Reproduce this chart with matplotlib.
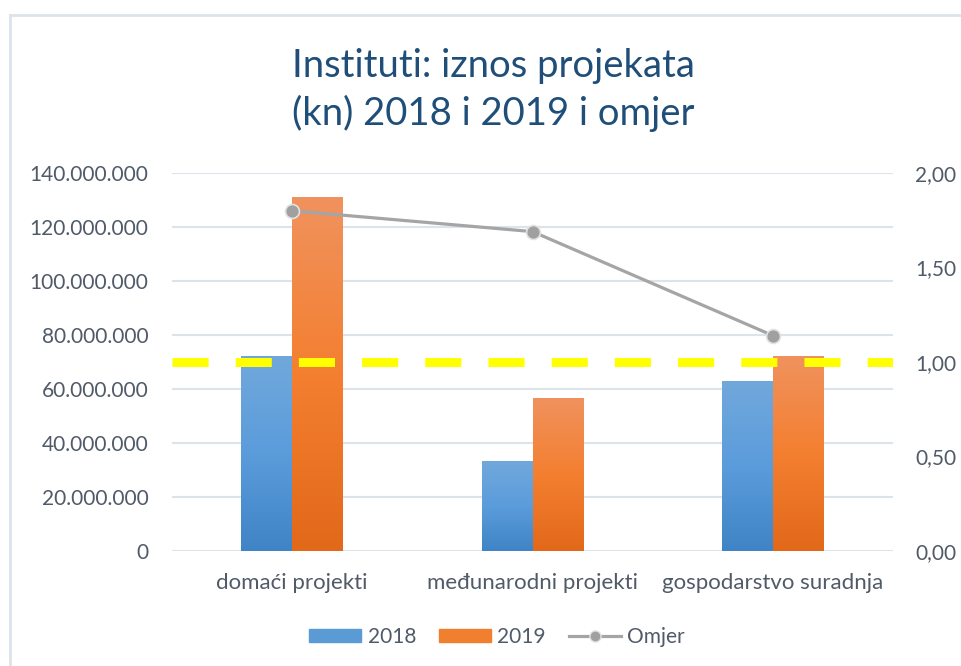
import numpy as np
import matplotlib.pyplot as plt
from matplotlib.colors import LinearSegmentedColormap
from matplotlib.patches import Patch
from matplotlib.lines import Line2D

plt.rcParams['font.family'] = ['Lato', 'DejaVu Sans']

# data
categories = ['domaći projekti', 'međunarodni projekti', 'gospodarstvo suradnja']
iznos_2018 = [72200000, 33100000, 62600000]
iznos_2019 = [131000000, 56400000, 72200000]
omjer = [1.80, 1.69, 1.14]
granica = 1.0

left_ticks = [0, 20e6, 40e6, 60e6, 80e6, 100e6, 120e6, 140e6]
right_ticks = [0, 0.5, 1.0, 1.5, 2.0]

text_col = '#505A68'
grid_col = '#DCE3EB'
blue_grad = LinearSegmentedColormap.from_list('b', ['#3F84C6', '#5B9CDB', '#71A8DC'])
orange_grad = LinearSegmentedColormap.from_list('o', ['#E2681A', '#F47F30', '#F0925E'])

fig = plt.figure(figsize=(9.61, 6.66), dpi=100)

# chart border (left and top edges visible in crop)
fig.add_artist(Line2D([10/961, 10/961], [0, 1 - 15/666], transform=fig.transFigure,
                      color='#DDE3EA', lw=2))
fig.add_artist(Line2D([10/961, 1], [1 - 15/666, 1 - 15/666], transform=fig.transFigure,
                      color='#DDE3EA', lw=2))

ax = fig.add_axes([172/961, 1 - 551/666, 721/961, 378/666])
x = np.arange(len(categories))
w = 0.212

b1 = ax.bar(x - w/2, iznos_2018, w, color='#5B9BD5', zorder=2)
b2 = ax.bar(x + w/2, iznos_2019, w, color='#F07F2F', zorder=2)

# vertical gradient fill like excel
grad = np.linspace(0, 1, 256).reshape(-1, 1)
for bars, cm in ((b1, blue_grad), (b2, orange_grad)):
    for p in bars:
        bx, by, bw, bh = p.get_x(), p.get_y(), p.get_width(), p.get_height()
        ax.imshow(grad, cmap=cm, extent=[bx, bx + bw, by, by + bh],
                  origin='lower', aspect='auto', zorder=3)

ax.set_xlim(-0.5, len(categories) - 0.5)
ax.set_ylim(0, 140e6)
ax.set_yticks(left_ticks)
ax.set_yticklabels([f'{int(v):,}'.replace(',', '.') for v in left_ticks])
ax.set_xticks(x)
ax.set_xticklabels(categories)
ax.yaxis.grid(True, color=grid_col, lw=1.5, zorder=0)
ax.set_axisbelow(True)
for s in ax.spines.values():
    s.set_visible(False)
ax.tick_params(axis='y', length=0, pad=17, labelsize=15, labelcolor=text_col)
ax.tick_params(axis='x', length=0, pad=16, labelsize=16, labelcolor=text_col)

ax2 = ax.twinx()
ax2.set_ylim(0, 2)
ax2.set_yticks(right_ticks)
ax2.set_yticklabels([f'{v:.2f}'.replace('.', ',') for v in right_ticks])
ax2.tick_params(axis='y', length=0, pad=16, labelsize=15, labelcolor=text_col)
for s in ax2.spines.values():
    s.set_visible(False)

ax2.axhline(granica, color='#FFFF00', lw=6.5, dashes=(4, 3), dash_capstyle='butt', zorder=4)
ax2.plot(x, omjer, color='#A5A5A5', lw=2.3, marker='o', markersize=10,
         markerfacecolor='#A0A0A0', markeredgecolor='#E2E2E2', markeredgewidth=1.2, zorder=5)

fig.text(493/961, 1 - 90/666, 'Instituti: iznos projekata\n(kn) 2018 i 2019 i omjer',
         ha='center', va='center', fontsize=27.5, color='#1F4E79', linespacing=1.38)

handles = [Patch(color='#5B9BD5'), Patch(color='#F07F2F'),
           Line2D([], [], color='#A5A5A5', lw=2.3, marker='o', markersize=8,
                  markerfacecolor='#A0A0A0', markeredgecolor='#E2E2E2')]
leg = fig.legend(handles, ['2018', '2019', 'Omjer'], loc='center',
                 bbox_to_anchor=(497/961, 1 - 637/666), ncol=3, frameon=False,
                 fontsize=15, handlelength=2.5, handleheight=0.6, handletextpad=0.3,
                 columnspacing=1.1)
for t in leg.get_texts():
    t.set_color(text_col)

plt.savefig('out.png', dpi=100)
